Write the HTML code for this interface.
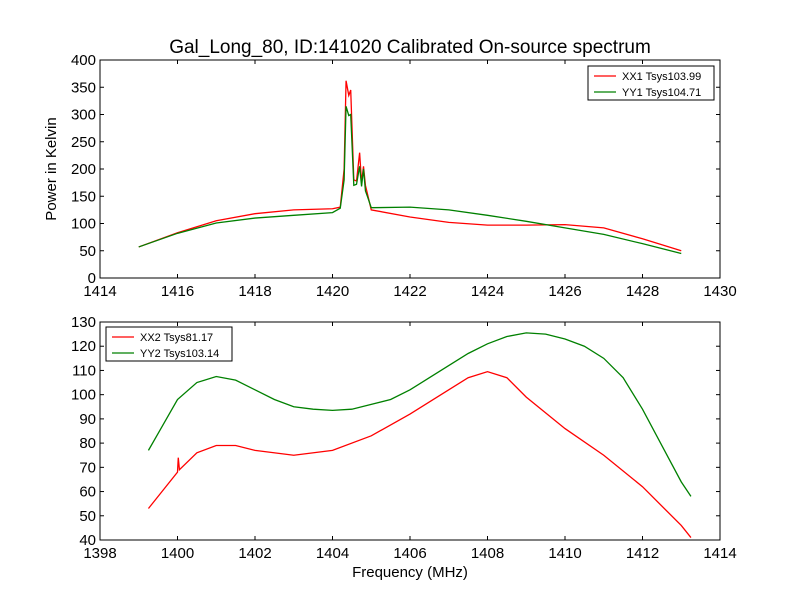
<!DOCTYPE html>
<html><head><meta charset="utf-8"><style>
html,body{margin:0;padding:0;background:#fff}
svg{display:block;font-family:"Liberation Sans","DejaVu Sans",sans-serif}
</style></head><body>
<svg id="c" width="800" height="600" viewBox="0 0 800 600">
<rect width="800" height="600" fill="#fff"/>
<text x="410" y="53" font-size="19" text-anchor="middle">Gal_Long_80, ID:141020 Calibrated On-source spectrum</text>
<text x="410" y="577" font-size="15" text-anchor="middle">Frequency (MHz)</text>
<text transform="translate(56,169) rotate(-90)" font-size="15" text-anchor="middle">Power in Kelvin</text>
</svg>
<script>
const topFreq=[1415,1416,1417,1418,1419,1420,1420.2,1420.3,1420.35,1420.42,1420.47,1420.55,1420.62,1420.7,1420.75,1420.8,1420.85,1420.9,1421,1422,1423,1424,1425,1426,1427,1428,1429];
const xx1=[57,83,105,118,125,127,130,200,362,335,345,180,178,230,175,205,170,155,125,112,102,97,97,98,92,72,50];
const yy1=[57,82,101,110,115,120,128,180,315,298,300,170,172,205,168,200,160,150,129,130,125,115,104,92,80,63,45];
const botFreqX=[1399.25,1399.5,1400,1400.02,1400.05,1400.5,1401,1401.5,1402,1403,1404,1405,1406,1407,1407.5,1408,1408.5,1409,1410,1411,1412,1413,1413.25];
const xx2=[53,58,68,74,69,76,79,79,77,75,77,83,92,102,107,109.5,107,99,86,75,62,46,41];
const botFreqY=[1399.25,1399.5,1400,1400.5,1401,1401.5,1402,1402.5,1403,1403.5,1404,1404.5,1405,1405.5,1406,1406.5,1407,1407.5,1408,1408.5,1409,1409.5,1410,1410.5,1411,1411.5,1412,1412.5,1413,1413.25];
const yy2=[77,84,98,105,107.5,106,102,98,95,94,93.5,94,96,98,102,107,112,117,121,124,125.5,125,123,120,115,107,94,79,64,58];
const topXTicks=[1414,1416,1418,1420,1422,1424,1426,1428,1430];
const topYTicks=[0,50,100,150,200,250,300,350,400];
const botXTicks=[1398,1400,1402,1404,1406,1408,1410,1412,1414];
const botYTicks=[40,50,60,70,80,90,100,110,120,130];

const svg=document.getElementById('c');const NS='http://www.w3.org/2000/svg';
function mk(t,a){const e=document.createElementNS(NS,t);for(const k in a)e.setAttribute(k,a[k]);svg.appendChild(e);return e;}
function panel(name,x0,x1,y0,y1,L,R,T,B,xt,yt,series,legend){
  const sx=v=>L+(v-x0)/(x1-x0)*(R-L), sy=v=>B-(v-y0)/(y1-y0)*(B-T);
  series.forEach(s=>{
    const p=mk('polyline',{points:s.f.map((f,i)=>sx(f)+','+sy(s.v[i])).join(' '),fill:'none',stroke:s.c,'stroke-width':1.3});
    
    
  });
  const fr=mk('rect',{x:L,y:T,width:R-L,height:B-T,fill:'none',stroke:'#000'});
  
  
  xt.forEach(v=>{const x=sx(v);mk('line',{x1:x,x2:x,y1:B,y2:B-4,stroke:'#000'});mk('line',{x1:x,x2:x,y1:T,y2:T+4,stroke:'#000'});
    const t=mk('text',{x:x,y:B+18,'font-size':15,'text-anchor':'middle'});t.textContent=v;
    
    });
  yt.forEach(v=>{const y=sy(v);mk('line',{x1:L,x2:L+4,y1:y,y2:y,stroke:'#000'});mk('line',{x1:R,x2:R-4,y1:y,y2:y,stroke:'#000'});
    const t=mk('text',{x:L-4,y:y+5,'font-size':15,'text-anchor':'end'});t.textContent=v;
    
    });
  const lg=mk('rect',{x:legend.x,y:legend.y,width:legend.w,height:34,fill:'#fff',stroke:'#000'});
  
  
  series.forEach((s,i)=>{const y=legend.y+10+i*16;
    mk('line',{x1:legend.x+6,x2:legend.x+28,y1:y,y2:y,stroke:s.c,'stroke-width':1.3});
    const t=mk('text',{x:legend.x+34,y:y+4,'font-size':11});t.textContent=s.label;
    
    });
}
panel('top-panel',1414,1430,0,400,100,720,60,278,topXTicks,topYTicks,
 [{f:topFreq,v:xx1,c:'#ff0000',n:'xx1-line',label:'XX1 Tsys103.99'},{f:topFreq,v:yy1,c:'#008000',n:'yy1-line',label:'YY1 Tsys104.71'}],{x:588,y:66,w:126});
panel('bottom-panel',1398,1414,40,130,100,720,322,540,botXTicks,botYTicks,
 [{f:botFreqX,v:xx2,c:'#ff0000',n:'xx2-line',label:'XX2 Tsys81.17'},{f:botFreqY,v:yy2,c:'#008000',n:'yy2-line',label:'YY2 Tsys103.14'}],{x:106,y:327,w:126});
</script>
</body></html>
